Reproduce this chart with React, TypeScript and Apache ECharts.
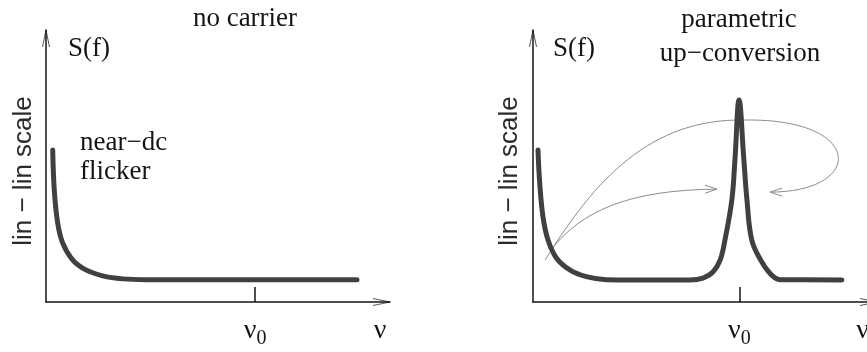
import React, { useEffect, useRef } from "react";
import * as echarts from "echarts";

// ---- data (axis units 0..100 on both axes) ----
// left panel: "no carrier" – near-dc flicker only
const leftFreq = [1.95, 2.4, 3.4, 4.85, 7.8, 11.6, 16.5, 22.3, 29.1, 90.4];
const leftPower = [55.9, 41.2, 29.0, 21.7, 15.4, 11.8, 9.6, 8.5, 8.2, 8.2];
// right panel: "parametric up-conversion" – flicker + peak at nu0
const rightFreq = [
  1.45, 1.95, 2.9, 4.36, 6.8, 10.7, 15.5, 21.3, 29.1, 45.6, 49.4, 52.3, 54.4, 55.8, 57.8, 58.7, 59.9,
  61.3, 62.2, 63.6, 66.2, 69.0, 71.8, 89.8,
];
const rightPower = [
  55.9, 43.8, 31.3, 22.8, 16.2, 11.8, 9.3, 8.2, 8.1, 8.1, 8.8, 11.0, 15.4, 22.8, 37.5, 52.2, 74.3,
  52.2, 37.5, 22.8, 15.4, 10.4, 8.2, 8.1,
];

// tick / label positions on the frequency axes
const nu0Left = 60.8;
const nuEndLeft = 97.1;
const nu0Right = 60.0;
const nuEndRight = 95.8;

// annotation arrows (right panel, data coords): start, cp1, cp2, end
const arrowLoopA = [[3.5, 15.4], [18.0, 44.9], [34.0, 67.6], [61.6, 66.9]];
const arrowLoopB = [[61.6, 66.9], [96.5, 67.6], [96.5, 40.4], [68.9, 40.4]];
const arrowLow = [[5.2, 19.1], [14.2, 33.8], [28.2, 41.2], [53.5, 41.5]];

const SERIF = "'Liberation Serif', 'Times New Roman', serif";
const SANS = "'Liberation Sans', Arial, sans-serif";
const INK = "#141414";
const CURVE = "#404040";
const THIN = "#8c8c8c";

function zip(xs: number[], ys: number[]) {
  return xs.map((x, i) => [x, ys[i]]);
}

export default function App() {
  const ref = useRef<HTMLDivElement>(null);

  useEffect(() => {
    if (!ref.current) return;
    const chart = echarts.init(ref.current, undefined, { renderer: "svg" });

    const axisLine = { show: true, onZero: false, lineStyle: { color: INK, width: 1.5 } };
    const rich = {
      n: { fontFamily: SERIF, fontSize: 28, color: INK, verticalAlign: "top", lineHeight: 30 },
      s: { fontFamily: SERIF, fontSize: 20, color: INK, verticalAlign: "top", lineHeight: 20, padding: [13, 0, 0, 0] },
    };
    const makeX = (gridIndex: number, nu0: number, nuEnd: number) => ({
      gridIndex,
      type: "value",
      min: 0,
      max: 100,
      axisLine,
      splitLine: { show: false },
      axisTick: { show: true, inside: true, length: 15, customValues: [nu0], lineStyle: { color: INK, width: 1.5 } },
      axisLabel: {
        show: true,
        customValues: [nu0, nuEnd],
        margin: 12,
        formatter: (v: number) => (v < 80 ? "{n|ν}{s|0}" : "{n|ν}"),
        rich,
      },
    });
    const makeY = (gridIndex: number) => ({
      gridIndex,
      type: "value",
      min: 0,
      max: 100,
      axisLine,
      axisTick: { show: false },
      axisLabel: { show: false },
      splitLine: { show: false },
    });

    const curveStyle = { color: CURVE, width: 5, cap: "round", join: "round" };

    chart.setOption({
      animation: false,
      grid: [
        { left: 46, top: 30, width: 344, height: 272, containLabel: false, outerBoundsMode: "none" },
        { left: 533, top: 30, width: 344, height: 272, containLabel: false, outerBoundsMode: "none" },
      ],
      xAxis: [makeX(0, nu0Left, nuEndLeft), makeX(1, nu0Right, nuEndRight)],
      yAxis: [makeY(0), makeY(1)],
      series: [
        {
          name: "no carrier",
          type: "line",
          xAxisIndex: 0,
          yAxisIndex: 0,
          data: zip(leftFreq, leftPower),
          smooth: 0.35,
          showSymbol: false,
          lineStyle: curveStyle,
        },
        {
          name: "parametric up-conversion",
          type: "line",
          xAxisIndex: 1,
          yAxisIndex: 1,
          data: zip(rightFreq, rightPower),
          smooth: 0.4,
          showSymbol: false,
          lineStyle: curveStyle,
        },
      ],
    });

    const px = (g: number, p: number[]) => chart.convertToPixel({ gridIndex: g }, p) as number[];

    const bez = (pts: number[][]) => {
      const [a, b, c, d] = pts.map((p) => px(1, p));
      return {
        type: "bezierCurve",
        shape: { x1: a[0], y1: a[1], cpx1: b[0], cpy1: b[1], cpx2: c[0], cpy2: c[1], x2: d[0], y2: d[1] },
        style: { stroke: THIN, lineWidth: 1, fill: null },
        silent: true,
      };
    };
    const head = (from: number[], tip: number[], g: number, len: number, half: number, color: string) => {
      const f = px(g, from);
      const t = px(g, tip);
      const dx = t[0] - f[0];
      const dy = t[1] - f[1];
      const L = Math.hypot(dx, dy) || 1;
      const ux = dx / L;
      const uy = dy / L;
      return {
        type: "polyline",
        shape: {
          points: [
            [t[0] - ux * len - uy * half, t[1] - uy * len + ux * half],
            [t[0], t[1]],
            [t[0] - ux * len + uy * half, t[1] - uy * len - ux * half],
          ],
        },
        style: { stroke: color, lineWidth: 1, fill: null },
        silent: true,
      };
    };

    const text = (t: string, x: number, y: number, align: string) => ({
      type: "text",
      x,
      y,
      silent: true,
      style: {
        text: t,
        fontFamily: SERIF,
        fontSize: 27,
        fill: INK,
        align,
        verticalAlign: "middle",
      },
    });
    const sideLabel = (x: number) => ({
      type: "text",
      x,
      y: 171,
      rotation: Math.PI / 2,
      silent: true,
      style: {
        text: "lin − lin scale",
        fontFamily: SANS,
        fontSize: 26,
        fill: "#2b2b2b",
        align: "center",
        verticalAlign: "middle",
      },
    });

    chart.setOption({
      graphic: [
        // axis arrowheads
        head([0, 90], [0, 100], 0, 17, 3.5, "#555"),
        head([90, 0], [100, 0], 0, 17, 3.5, "#555"),
        head([0, 90], [0, 100], 1, 17, 3.5, "#555"),
        head([90, 0], [100, 0], 1, 17, 3.5, "#555"),
        // up-conversion arrows
        bez(arrowLoopA),
        bez(arrowLoopB),
        bez(arrowLow),
        head(arrowLoopB[2], arrowLoopB[3], 1, 12, 4, THIN),
        head(arrowLow[2], arrowLow[3], 1, 12, 4, THIN),
        // texts
        text("no carrier", 245, 17, "center"),
        text("S(f)", 68, 47, "left"),
        text("near−dc", 80, 141, "left"),
        text("flicker", 80, 170, "left"),
        text("parametric", 739, 18, "center"),
        text("up−conversion", 740, 52, "center"),
        text("S(f)", 553, 47, "left"),
        sideLabel(22),
        sideLabel(508),
      ],
    });

    return () => chart.dispose();
  }, []);

  return <div ref={ref} style={{ position: "fixed", left: 0, top: 0, width: 867, height: 352 }} />;
}
